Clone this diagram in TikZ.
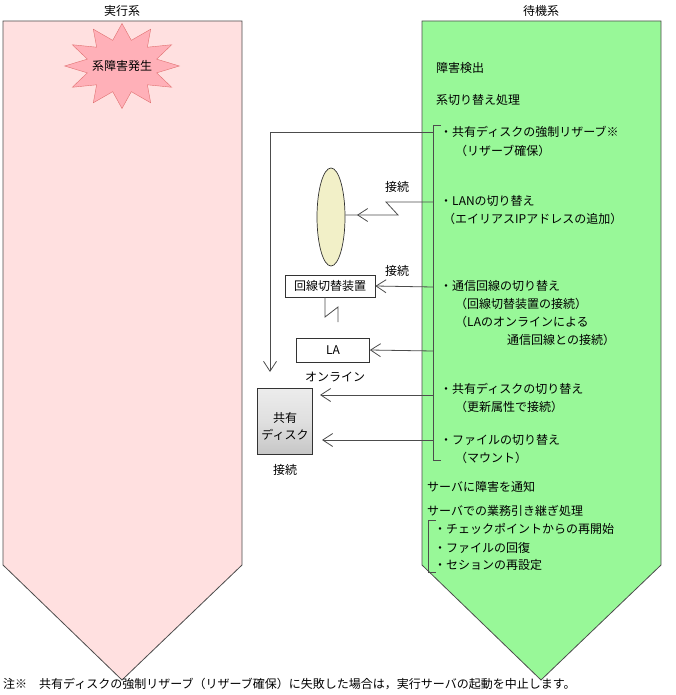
\documentclass[tikz,border=0pt]{standalone}
\usepackage{fontspec}
\setmainfont{Noto Sans CJK JP}
\usetikzlibrary{arrows.meta,shapes.geometric,shapes.symbols}
\definecolor{leftfill}{HTML}{FFE0E0}
\definecolor{rightfill}{HTML}{98F898}
\definecolor{starfill}{HTML}{FFB0B8}
\definecolor{stardraw}{HTML}{E07070}
\definecolor{ellfill}{HTML}{F2F0C8}
\begin{document}
\begin{tikzpicture}[x=1pt,y=-1pt,
  every node/.style={font=\fontsize{12}{15}\selectfont,inner sep=0pt},
  lbl/.style={anchor=west},
  conn/.style={draw=black!70,line width=0.8pt},
  arr/.style={conn,-{Straight Barb[length=10pt,width=13pt,line width=0.8pt]}},
  boxst/.style={draw=black!80,fill=white,minimum height=22pt,line width=0.7pt}]
\useasboundingbox (0,0) rectangle (675,695);
% columns
\path[fill=leftfill,draw=black!70,line width=0.8pt] (3,21) -- (242,21) -- (242,565) -- (122,680) -- (3,565) -- cycle;
\path[fill=rightfill,draw=black!70,line width=0.8pt] (422,21) -- (661,21) -- (661,565) -- (541,680) -- (422,565) -- cycle;
\node (tl) at (122,11) {実行系};
\node (tr) at (541,11) {待機系};
% star
\node[star,star points=12,star point ratio=1.6,fill=starfill,draw=stardraw,minimum size=85pt,xscale=1.35,yscale=1] (star) at (122,66) {};
\node at (122,66) {系障害発生};
% right texts
\node[lbl] (t1) at (436,68) {障害検出};
\node[lbl] (t2) at (436,100) {系切り替え処理};
\draw[black!70,line width=0.8pt] (441,125) -- (433,125) -- (433,460) -- (441,460);
\node[lbl] (a1) at (440,132) {・共有ディスクの強制リザーブ※};
\node[lbl] at (455,151) {（リザーブ確保）};
\node[lbl] (a2) at (440,201) {・LANの切り替え};
\node[lbl] at (443,219) {（エイリアスIPアドレスの追加）};
\node[lbl] (a3) at (440,286) {・通信回線の切り替え};
\node[lbl] at (455,304) {（回線切替装置の接続）};
\node[lbl] at (455,322) {（LAのオンラインによる};
\node[lbl] at (507,340) {通信回線との接続）};
\node[lbl] (a4) at (440,389) {・共有ディスクの切り替え};
\node[lbl] at (455,407) {（更新属性で接続）};
\node[lbl] (a5) at (440,440) {・ファイルの切り替え};
\node[lbl] at (455,458) {（マウント）};
\node[lbl] at (427,487) {サーバに障害を通知};
\node[lbl] at (427,511) {サーバでの業務引き継ぎ処理};
\draw[black!70,line width=0.8pt] (436,520) -- (428,520) -- (428,572) -- (436,572);
\node[lbl] at (434,529) {・チェックポイントからの再開始};
\node[lbl] at (434,548) {・ファイルの回復};
\node[lbl] at (434,565) {・セションの再設定};
% coordinates on bracket
\coordinate (b1) at (433,132);
\coordinate (b2) at (433,202);
\coordinate (b3) at (433,287);
\coordinate (b4) at (433,351);
\coordinate (b5) at (433,395);
\coordinate (b6) at (433,440);
% left objects
\node[ellipse,draw=black!80,fill=ellfill,minimum width=28pt,minimum height=98pt,line width=0.7pt] (lan) at (331,217) {};
\node[boxst,minimum width=90pt] (sw) at (330,286) {回線切替装置};
\node[boxst,minimum width=73pt,minimum height=24pt] (la) at (333,350) {LA};
\node (onl) at (335,377) {オンライン};
\node at (397,187) {接続};
\node at (397,271) {接続};
% disk
\node[cylinder,shape border rotate=90,aspect=0.25,draw=black!80,minimum width=55pt,minimum height=66pt,
  top color=gray!15,bottom color=gray!45,middle color=gray!25,line width=0.7pt] (disk) at (285,422) {};
\node[align=center,font=\fontsize{12}{17}\selectfont] at (285,426) {共有\\ディスク};
\node (dc) at (285,470) {接続};
% connectors
\draw[arr] (b1) -- (270,132) -- (270,372);
\draw[arr] (b2) -- (386,202) -- (398,215) -- (lan.east |- 0,215) ++(26,0) -- (357,215);
\draw[arr] (b3) -- (sw.east);
\draw[conn] (325,297) -- (325,317) -- (338,307) -- (338,322);
\draw[arr] (b4) -- (la.east);
\draw[arr] (b5) -- (320,395);
\draw[arr] (b6) -- (322,440);
% footnote
\node[lbl] at (3,684) {注※　共有ディスクの強制リザーブ（リザーブ確保）に失敗した場合は，実行サーバの起動を中止します。};
\end{tikzpicture}
\end{document}
